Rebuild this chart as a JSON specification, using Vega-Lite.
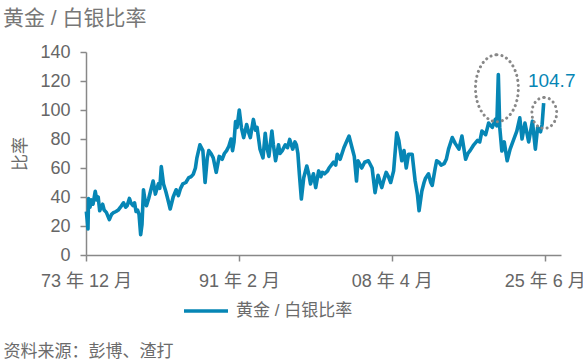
{
  "$schema": "https://vega.github.io/schema/vega-lite/v6.json",
  "width": 475,
  "height": 203,
  "autosize": {"type": "none"},
  "padding": {"left": 86, "top": 52, "right": 22, "bottom": 106},
  "background": "white",
  "title": {
    "text": "黄金 / 白银比率",
    "anchor": "start",
    "frame": "group",
    "dx": -83,
    "dy": 22,
    "offset": 19,
    "baseline": "alphabetic",
    "fontSize": 21,
    "fontWeight": "normal",
    "color": "#777777"
  },
  "config": {
    "font": "Liberation Sans, Noto Sans CJK SC",
    "view": {"stroke": null}
  },
  "datasets": {
    "series": [
      {"date": "1973-12-15", "ratio": 30},
      {"date": "1974-01-20", "ratio": 24},
      {"date": "1974-02-20", "ratio": 18},
      {"date": "1974-03-15", "ratio": 39},
      {"date": "1974-05-15", "ratio": 33},
      {"date": "1974-07-15", "ratio": 38},
      {"date": "1974-09-15", "ratio": 35},
      {"date": "1974-12-15", "ratio": 44},
      {"date": "1975-02-15", "ratio": 38},
      {"date": "1975-04-15", "ratio": 40},
      {"date": "1975-06-15", "ratio": 30.5},
      {"date": "1975-08-15", "ratio": 33},
      {"date": "1975-10-15", "ratio": 35},
      {"date": "1975-12-15", "ratio": 31},
      {"date": "1976-03-15", "ratio": 29.4},
      {"date": "1976-07-15", "ratio": 24.4},
      {"date": "1976-10-15", "ratio": 28},
      {"date": "1976-12-15", "ratio": 29},
      {"date": "1977-04-15", "ratio": 30},
      {"date": "1977-07-15", "ratio": 31},
      {"date": "1977-10-15", "ratio": 33},
      {"date": "1978-02-15", "ratio": 36},
      {"date": "1978-05-15", "ratio": 33},
      {"date": "1978-07-15", "ratio": 34},
      {"date": "1978-10-15", "ratio": 39},
      {"date": "1978-12-15", "ratio": 36},
      {"date": "1979-03-15", "ratio": 34},
      {"date": "1979-05-15", "ratio": 36},
      {"date": "1979-07-15", "ratio": 30},
      {"date": "1979-09-15", "ratio": 31},
      {"date": "1979-11-15", "ratio": 28},
      {"date": "1980-01-20", "ratio": 14},
      {"date": "1980-03-15", "ratio": 21},
      {"date": "1980-05-15", "ratio": 45},
      {"date": "1980-07-15", "ratio": 38},
      {"date": "1980-09-15", "ratio": 34},
      {"date": "1980-12-15", "ratio": 39},
      {"date": "1981-03-15", "ratio": 45},
      {"date": "1981-06-15", "ratio": 51},
      {"date": "1981-09-15", "ratio": 42},
      {"date": "1982-01-15", "ratio": 49},
      {"date": "1982-03-15", "ratio": 46},
      {"date": "1982-05-15", "ratio": 61},
      {"date": "1982-08-15", "ratio": 49},
      {"date": "1982-11-15", "ratio": 44},
      {"date": "1983-01-15", "ratio": 40},
      {"date": "1983-03-15", "ratio": 36},
      {"date": "1983-05-15", "ratio": 31.7},
      {"date": "1983-09-15", "ratio": 40},
      {"date": "1984-01-15", "ratio": 45},
      {"date": "1984-04-15", "ratio": 41},
      {"date": "1984-07-15", "ratio": 46},
      {"date": "1984-10-15", "ratio": 49},
      {"date": "1985-02-15", "ratio": 50},
      {"date": "1985-06-15", "ratio": 53.4},
      {"date": "1985-09-15", "ratio": 54},
      {"date": "1985-12-15", "ratio": 55.6},
      {"date": "1986-03-15", "ratio": 60},
      {"date": "1986-05-15", "ratio": 67},
      {"date": "1986-09-15", "ratio": 76},
      {"date": "1987-01-15", "ratio": 72},
      {"date": "1987-04-15", "ratio": 50},
      {"date": "1987-07-15", "ratio": 67},
      {"date": "1987-09-15", "ratio": 72},
      {"date": "1987-12-15", "ratio": 70},
      {"date": "1988-03-15", "ratio": 67},
      {"date": "1988-07-15", "ratio": 57},
      {"date": "1988-11-15", "ratio": 68},
      {"date": "1989-03-15", "ratio": 66},
      {"date": "1989-06-15", "ratio": 70},
      {"date": "1989-09-15", "ratio": 72},
      {"date": "1989-12-15", "ratio": 75},
      {"date": "1990-03-15", "ratio": 80},
      {"date": "1990-05-15", "ratio": 72},
      {"date": "1990-07-15", "ratio": 78},
      {"date": "1990-09-15", "ratio": 92},
      {"date": "1990-11-15", "ratio": 88},
      {"date": "1991-02-15", "ratio": 100},
      {"date": "1991-05-15", "ratio": 87.7},
      {"date": "1991-08-15", "ratio": 81},
      {"date": "1991-12-15", "ratio": 90},
      {"date": "1992-03-15", "ratio": 84},
      {"date": "1992-05-15", "ratio": 81},
      {"date": "1992-09-15", "ratio": 93.5},
      {"date": "1992-12-15", "ratio": 86},
      {"date": "1993-02-15", "ratio": 88},
      {"date": "1993-06-15", "ratio": 73},
      {"date": "1993-10-15", "ratio": 67},
      {"date": "1994-01-15", "ratio": 84},
      {"date": "1994-03-15", "ratio": 75},
      {"date": "1994-06-15", "ratio": 68},
      {"date": "1994-10-15", "ratio": 85.5},
      {"date": "1994-12-15", "ratio": 76},
      {"date": "1995-03-15", "ratio": 65},
      {"date": "1995-07-15", "ratio": 76},
      {"date": "1995-09-15", "ratio": 70},
      {"date": "1995-12-15", "ratio": 72},
      {"date": "1996-04-15", "ratio": 76},
      {"date": "1996-07-15", "ratio": 74},
      {"date": "1996-10-15", "ratio": 79.7},
      {"date": "1997-02-15", "ratio": 73},
      {"date": "1997-05-15", "ratio": 78},
      {"date": "1997-07-15", "ratio": 76},
      {"date": "1997-09-15", "ratio": 70},
      {"date": "1997-11-15", "ratio": 55.7},
      {"date": "1998-02-05", "ratio": 38.6},
      {"date": "1998-05-15", "ratio": 53.5},
      {"date": "1998-09-15", "ratio": 61.4},
      {"date": "1998-12-15", "ratio": 55},
      {"date": "1999-02-15", "ratio": 49},
      {"date": "1999-06-15", "ratio": 56},
      {"date": "1999-09-15", "ratio": 46.5},
      {"date": "2000-01-15", "ratio": 58},
      {"date": "2000-04-15", "ratio": 54},
      {"date": "2000-06-15", "ratio": 57},
      {"date": "2000-09-15", "ratio": 56},
      {"date": "2001-01-15", "ratio": 58},
      {"date": "2001-03-15", "ratio": 60},
      {"date": "2001-06-15", "ratio": 62},
      {"date": "2001-09-15", "ratio": 64},
      {"date": "2001-12-15", "ratio": 62},
      {"date": "2002-02-15", "ratio": 69.5},
      {"date": "2002-06-15", "ratio": 66},
      {"date": "2002-11-15", "ratio": 74},
      {"date": "2003-03-15", "ratio": 78.6},
      {"date": "2003-06-15", "ratio": 82},
      {"date": "2003-10-15", "ratio": 74},
      {"date": "2004-01-15", "ratio": 68},
      {"date": "2004-04-15", "ratio": 51},
      {"date": "2004-06-15", "ratio": 65},
      {"date": "2004-11-15", "ratio": 60},
      {"date": "2005-03-15", "ratio": 64},
      {"date": "2005-08-15", "ratio": 65},
      {"date": "2006-01-15", "ratio": 60},
      {"date": "2006-05-15", "ratio": 43},
      {"date": "2006-09-15", "ratio": 55},
      {"date": "2007-02-15", "ratio": 46.5},
      {"date": "2007-05-15", "ratio": 52},
      {"date": "2007-08-15", "ratio": 57},
      {"date": "2007-11-15", "ratio": 54},
      {"date": "2008-02-15", "ratio": 50},
      {"date": "2008-06-15", "ratio": 58},
      {"date": "2008-10-20", "ratio": 84.3},
      {"date": "2009-01-15", "ratio": 79},
      {"date": "2009-05-15", "ratio": 65},
      {"date": "2009-08-15", "ratio": 72},
      {"date": "2009-11-15", "ratio": 60},
      {"date": "2010-02-15", "ratio": 69.5},
      {"date": "2010-07-15", "ratio": 69.5},
      {"date": "2010-11-15", "ratio": 51},
      {"date": "2011-02-15", "ratio": 42},
      {"date": "2011-04-25", "ratio": 30.5},
      {"date": "2011-08-15", "ratio": 44},
      {"date": "2011-11-15", "ratio": 50},
      {"date": "2012-01-15", "ratio": 53},
      {"date": "2012-05-15", "ratio": 56},
      {"date": "2012-08-15", "ratio": 50},
      {"date": "2012-10-15", "ratio": 48},
      {"date": "2013-02-15", "ratio": 60},
      {"date": "2013-04-15", "ratio": 65},
      {"date": "2013-07-15", "ratio": 64},
      {"date": "2013-10-15", "ratio": 62},
      {"date": "2014-02-15", "ratio": 63},
      {"date": "2014-05-15", "ratio": 66},
      {"date": "2014-08-15", "ratio": 73},
      {"date": "2015-01-15", "ratio": 81},
      {"date": "2015-05-15", "ratio": 77},
      {"date": "2015-10-15", "ratio": 73},
      {"date": "2016-02-15", "ratio": 82},
      {"date": "2016-07-15", "ratio": 66},
      {"date": "2016-10-15", "ratio": 70},
      {"date": "2017-01-15", "ratio": 72},
      {"date": "2017-06-15", "ratio": 76},
      {"date": "2017-11-15", "ratio": 79},
      {"date": "2018-02-15", "ratio": 78},
      {"date": "2018-05-15", "ratio": 85.5},
      {"date": "2018-10-15", "ratio": 83},
      {"date": "2019-02-15", "ratio": 91},
      {"date": "2019-07-15", "ratio": 88},
      {"date": "2019-11-15", "ratio": 93.5},
      {"date": "2020-01-15", "ratio": 89},
      {"date": "2020-03-18", "ratio": 124.4},
      {"date": "2020-05-15", "ratio": 88},
      {"date": "2020-08-10", "ratio": 71.7},
      {"date": "2020-11-15", "ratio": 78},
      {"date": "2021-03-15", "ratio": 65},
      {"date": "2021-07-15", "ratio": 73},
      {"date": "2021-12-15", "ratio": 80},
      {"date": "2022-04-15", "ratio": 85.5},
      {"date": "2022-08-15", "ratio": 94.6},
      {"date": "2022-11-15", "ratio": 80},
      {"date": "2023-03-15", "ratio": 91},
      {"date": "2023-08-15", "ratio": 78},
      {"date": "2024-01-15", "ratio": 92.3},
      {"date": "2024-05-15", "ratio": 73},
      {"date": "2024-08-15", "ratio": 88},
      {"date": "2024-12-15", "ratio": 85},
      {"date": "2025-02-15", "ratio": 90},
      {"date": "2025-04-20", "ratio": 104.7}
    ],
    "peak2020": [{"date": "2020-01-20", "ratio": 115}],
    "peak2025": [{"date": "2025-05-15", "ratio": 98}],
    "latest": [{"date": "2026-03-15", "ratio": 120, "label": "104.7"}]
  },
  "encoding": {
    "x": {
      "field": "date",
      "type": "temporal",
      "scale": {
        "type": "utc",
        "domain": [
          {"year": 1973, "month": 12, "date": 1, "utc": true},
          {"year": 2027, "month": 4, "date": 1, "utc": true}
        ]
      },
      "axis": {
        "values": [
          {"year": 1973, "month": 12, "date": 1, "utc": true},
          {"year": 1991, "month": 2, "date": 1, "utc": true},
          {"year": 2008, "month": 4, "date": 1, "utc": true},
          {"year": 2025, "month": 6, "date": 1, "utc": true}
        ],
        "labelExpr": "utcFormat(datum.value, '%y 年 %-m 月')",
        "labelFontSize": 18,
        "labelColor": "#666666",
        "labelPadding": 11,
        "labelFlush": false,
        "labelOverlap": false,
        "grid": false,
        "tickSize": 6,
        "tickColor": "#888888",
        "tickWidth": 1.5,
        "domainColor": "#888888",
        "domainWidth": 1.5,
        "title": "资料来源：彭博、渣打",
        "titleX": -83,
        "titleY": 96,
        "titleAlign": "left",
        "titleAnchor": "start",
        "titleBaseline": "middle",
        "titleFontSize": 17,
        "titleFontWeight": "normal",
        "titleColor": "#6b6b6b"
      }
    },
    "y": {
      "field": "ratio",
      "type": "quantitative",
      "scale": {"domain": [0, 140], "nice": false},
      "axis": {
        "values": [0, 20, 40, 60, 80, 100, 120, 140],
        "labelFontSize": 18,
        "labelColor": "#666666",
        "labelPadding": 10,
        "grid": false,
        "tickSize": 6,
        "tickColor": "#888888",
        "tickWidth": 1.5,
        "domainColor": "#888888",
        "domainWidth": 1.5,
        "title": "比率",
        "titleFontSize": 17,
        "titleFontWeight": "normal",
        "titleColor": "#6b6b6b",
        "titlePadding": 10
      }
    }
  },
  "layer": [
    {
      "data": {"name": "series"},
      "mark": {"type": "line", "strokeWidth": 3.6, "strokeJoin": "round"},
      "encoding": {
        "color": {
          "datum": "黄金 / 白银比率",
          "type": "nominal",
          "scale": {"range": ["#0686b5"]},
          "legend": {
            "orient": "none",
            "legendX": 96,
            "legendY": 235,
            "title": null,
            "padding": 0,
            "symbolType": "stroke",
            "symbolSize": 1936,
            "symbolStrokeWidth": 3.5,
            "labelFontSize": 17,
            "labelColor": "#6b6b6b",
            "labelOffset": 6
          }
        }
      }
    },
    {
      "data": {"name": "peak2020"},
      "mark": {
        "type": "point",
        "shape": "M0,-1A0.64,1 0 1,1 0,1A0.64,1 0 1,1 0,-1Z",
        "size": 4489,
        "filled": false,
        "stroke": "#888888",
        "strokeWidth": 3,
        "strokeDash": [0.1, 5],
        "strokeCap": "round",
        "opacity": 1
      }
    },
    {
      "data": {"name": "peak2025"},
      "mark": {
        "type": "point",
        "shape": "M0,-1A0.8,1 0 1,1 0,1A0.8,1 0 1,1 0,-1Z",
        "size": 961,
        "filled": false,
        "stroke": "#888888",
        "strokeWidth": 3,
        "strokeDash": [0.1, 5],
        "strokeCap": "round",
        "opacity": 1
      }
    },
    {
      "data": {"name": "latest"},
      "mark": {
        "type": "text",
        "fontSize": 19,
        "color": "#0686b5",
        "align": "center",
        "baseline": "middle"
      },
      "encoding": {"text": {"field": "label"}}
    }
  ]
}
